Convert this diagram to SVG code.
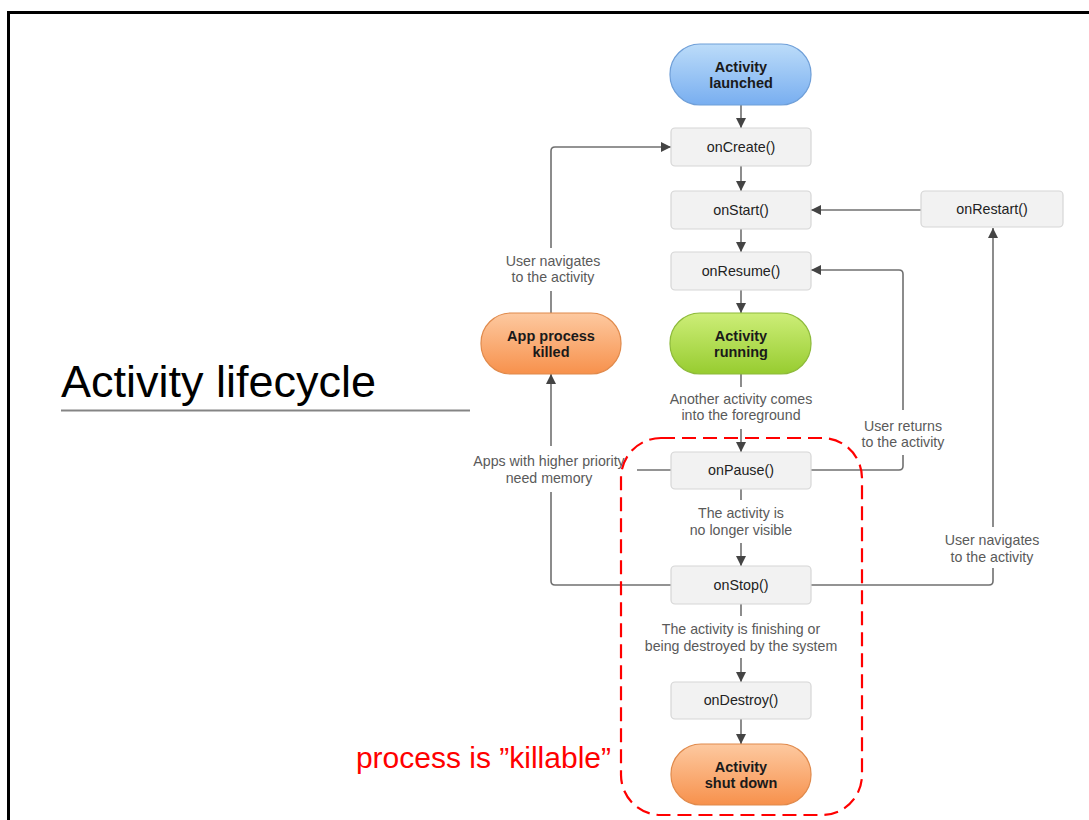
<svg xmlns="http://www.w3.org/2000/svg" width="1089" height="820" viewBox="0 0 1089 820">
<defs>
<linearGradient id="gBlue" x1="0" y1="0" x2="0" y2="1"><stop offset="0" stop-color="#bcdcf9"/><stop offset="1" stop-color="#78aef0"/></linearGradient>
<linearGradient id="gGreen" x1="0" y1="0" x2="0" y2="1"><stop offset="0" stop-color="#cdee78"/><stop offset="1" stop-color="#97cc30"/></linearGradient>
<linearGradient id="gOrange" x1="0" y1="0" x2="0" y2="1"><stop offset="0" stop-color="#fdc9a0"/><stop offset="1" stop-color="#f7914c"/></linearGradient>
<marker id="arr" viewBox="0 0 10 10" refX="10" refY="5" markerWidth="10" markerHeight="10" markerUnits="userSpaceOnUse" orient="auto"><path d="M0,0 L10,5 L0,10 z" fill="#444"/></marker>
</defs>
<style>
.box{fill:#f2f2f2;stroke:#d6d6d6;stroke-width:1.2}
.bt{font-family:"Liberation Sans",Arial,sans-serif;font-size:14.3px;fill:#222;text-anchor:middle}
.pt{font-family:"Liberation Sans",Arial,sans-serif;font-size:14.5px;font-weight:bold;fill:#1a1a1a;text-anchor:middle}
.lbl{font-family:"Liberation Sans",Arial,sans-serif;font-size:14.2px;fill:#5a5a5a;text-anchor:middle}
.c{fill:none;stroke:#707070;stroke-width:1.6}
.ca{fill:none;stroke:#707070;stroke-width:1.6;marker-end:url(#arr)}
</style>
<rect x="0" y="0" width="1089" height="820" fill="#fff"/>
<path d="M8.5,820 V12.5 H1089" fill="none" stroke="#000" stroke-width="3"/>
<g id="title">
<text x="61" y="397" font-family="Liberation Sans,Arial,sans-serif" font-size="45" fill="#000">Activity lifecycle</text>
<line x1="61" y1="410.5" x2="470" y2="410.5" stroke="#858585" stroke-width="2"/>
</g>
<g id="connectors">
<line class="ca" x1="741" y1="105" x2="741" y2="128"/>
<line class="ca" x1="741" y1="166" x2="741" y2="191"/>
<line class="ca" x1="741" y1="229" x2="741" y2="252"/>
<line class="ca" x1="741" y1="290" x2="741" y2="313"/>
<line class="c" x1="741" y1="374" x2="741" y2="387"/>
<line class="ca" x1="741" y1="429" x2="741" y2="452"/>
<line class="c" x1="741" y1="489" x2="741" y2="500"/>
<line class="ca" x1="741" y1="543" x2="741" y2="566"/>
<line class="c" x1="741" y1="604" x2="741" y2="616"/>
<line class="ca" x1="741" y1="658" x2="741" y2="682"/>
<line class="ca" x1="741" y1="719" x2="741" y2="744"/>
<line class="ca" x1="921" y1="210" x2="811" y2="210"/>
<path class="c" d="M811,470 H899 Q903,470 903,466 V455"/>
<path class="ca" d="M903,410 V274 Q903,270 899,270 H811"/>
<path class="c" d="M811,585 H989 Q993,585 993,581 V568"/>
<line class="ca" x1="993" y1="527" x2="993" y2="228"/>
<line class="c" x1="671" y1="470" x2="637" y2="470"/>
<path class="c" d="M671,585 H555 Q551,585 551,581 V492"/>
<line class="ca" x1="551" y1="446" x2="551" y2="374"/>
<line class="c" x1="551" y1="313" x2="551" y2="291"/>
<path class="ca" d="M551,248 V151 Q551,147 555,147 H671"/>
<text class="lbl" x="741" y="404">Another activity comes</text>
<text class="lbl" x="741" y="420">into the foreground</text>
<text class="lbl" x="741" y="518">The activity is</text>
<text class="lbl" x="741" y="535">no longer visible</text>
<text class="lbl" x="741" y="634">The activity is finishing or</text>
<text class="lbl" x="741" y="651">being destroyed by the system</text>
<text class="lbl" x="903" y="431">User returns</text>
<text class="lbl" x="903" y="447">to the activity</text>
<text class="lbl" x="992" y="545">User navigates</text>
<text class="lbl" x="992" y="562">to the activity</text>
<text class="lbl" x="549" y="466">Apps with higher priority</text>
<text class="lbl" x="549" y="483">need memory</text>
<text class="lbl" x="553" y="266">User navigates</text>
<text class="lbl" x="553" y="282">to the activity</text>
</g>
<g id="launched"><rect x="670" y="44" width="141" height="61" rx="30" fill="url(#gBlue)" stroke="#6f9fd8" stroke-width="1.2"/><text class="pt" x="741" y="72">Activity</text><text class="pt" x="741" y="88">launched</text></g>
<g id="onCreate"><rect class="box" x="671" y="128" width="140" height="38" rx="4"/><text class="bt" x="741" y="152">onCreate()</text></g>
<g id="onStart"><rect class="box" x="671" y="191" width="140" height="38" rx="4"/><text class="bt" x="741" y="215">onStart()</text></g>
<g id="onRestart"><rect class="box" x="921" y="191" width="142" height="36" rx="4"/><text class="bt" x="992" y="214">onRestart()</text></g>
<g id="onResume"><rect class="box" x="671" y="252" width="140" height="38" rx="4"/><text class="bt" x="741" y="276">onResume()</text></g>
<g id="running"><rect x="670" y="313" width="141" height="61" rx="30" fill="url(#gGreen)" stroke="#8dba3a" stroke-width="1.2"/><text class="pt" x="741" y="341">Activity</text><text class="pt" x="741" y="357">running</text></g>
<g id="killed"><rect x="481" y="313" width="140" height="61" rx="30" fill="url(#gOrange)" stroke="#e08a4c" stroke-width="1.2"/><text class="pt" x="551" y="341">App process</text><text class="pt" x="551" y="357">killed</text></g>
<g id="onPause"><rect class="box" x="671" y="452" width="140" height="37" rx="4"/><text class="bt" x="741" y="475">onPause()</text></g>
<g id="onStop"><rect class="box" x="671" y="566" width="140" height="38" rx="4"/><text class="bt" x="741" y="590">onStop()</text></g>
<g id="onDestroy"><rect class="box" x="671" y="682" width="140" height="37" rx="4"/><text class="bt" x="741" y="705">onDestroy()</text></g>
<g id="shutdown"><rect x="671" y="744" width="140" height="61" rx="30" fill="url(#gOrange)" stroke="#e08a4c" stroke-width="1.2"/><text class="pt" x="741" y="772">Activity</text><text class="pt" x="741" y="788">shut down</text></g>
<g id="killable">
<rect x="621" y="438" width="241" height="377" rx="40" fill="none" stroke="#ff0000" stroke-width="2.2" stroke-dasharray="14 7"/>
<text x="611" y="768" font-family="Liberation Sans,Arial,sans-serif" font-size="30" fill="#ff0000" text-anchor="end">process is ”killable”</text>
</g>
</svg>
